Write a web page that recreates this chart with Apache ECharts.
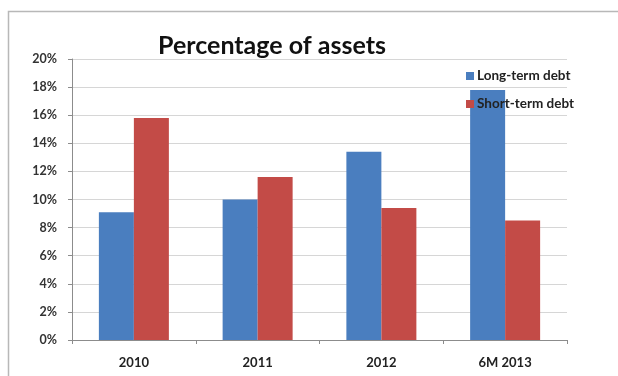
<!DOCTYPE html>
<html>
<head>
<meta charset="utf-8">
<script src="https://cdn.jsdelivr.net/npm/echarts@6/dist/echarts.min.js"></script>
<style>
  html, body { margin: 0; padding: 0; background: #ffffff; }
  #chart { width: 618px; height: 376px; }
</style>
</head>
<body>
<div id="chart"></div>
<script>
// Debt as a percentage of assets, by period
var categories = ['2010', '2011', '2012', '6M 2013'];
var longTermDebt = [9.1, 10.0, 13.4, 17.8];
var shortTermDebt = [15.8, 11.6, 9.4, 8.5];
var seriesNames = ['Long-term debt', 'Short-term debt'];
var chartTitle = 'Percentage of assets';

var FONT = 'Lato, "Open Sans", sans-serif';

var chart = echarts.init(document.getElementById('chart'), null, { renderer: 'canvas' });

chart.setOption({
  animation: false,
  backgroundColor: '#ffffff',
  title: {
    text: chartTitle,
    left: 267,
    textAlign: 'center',
    top: 28,
    textStyle: { fontFamily: FONT, fontSize: 25, fontWeight: 'bold', color: '#111111' }
  },
  graphic: [{
    type: 'rect',
    shape: { x: 8.5, y: 11.5, width: 700, height: 500 },
    style: { fill: 'none', stroke: '#b8b8b8', lineWidth: 1.5 },
    silent: true
  }],
  legend: {
    orient: 'vertical',
    left: 461,
    top: 64,
    itemWidth: 8,
    itemHeight: 8,
    itemGap: 14,
    icon: 'rect',
    textStyle: { fontFamily: FONT, fontSize: 13.5, fontWeight: 'bold', color: '#222222', padding: [0, 0, 0, -2] },
    data: seriesNames
  },
  grid: { left: 72, right: 51, top: 59, bottom: 36, containLabel: false },
  xAxis: {
    type: 'category',
    data: categories,
    axisLine: { lineStyle: { color: '#8c8c8c', width: 1 } },
    axisTick: { show: true, length: 4, lineStyle: { color: '#8c8c8c' } },
    axisLabel: { fontFamily: FONT, fontSize: 13, fontWeight: 'bold', color: '#222222', margin: 16 },
    splitLine: { show: false }
  },
  yAxis: {
    type: 'value',
    min: 0,
    max: 20,
    interval: 2,
    axisLine: { show: true, lineStyle: { color: '#8c8c8c', width: 1 } },
    axisTick: { show: true, length: 4, lineStyle: { color: '#8c8c8c' } },
    axisLabel: { fontFamily: FONT, fontSize: 12.5, fontWeight: 'bold', color: '#333333', margin: 15, formatter: '{value}%' },
    splitLine: { show: true, lineStyle: { color: '#d6d6d6', width: 1 } }
  },
  series: [
    {
      name: seriesNames[0],
      type: 'bar',
      data: longTermDebt,
      barWidth: 35,
      barGap: '0%',
      itemStyle: { color: '#4A7EBF' }
    },
    {
      name: seriesNames[1],
      type: 'bar',
      data: shortTermDebt,
      barWidth: 35,
      barGap: '0%',
      itemStyle: { color: '#C34B47' }
    }
  ]
});
</script>
</body>
</html>
